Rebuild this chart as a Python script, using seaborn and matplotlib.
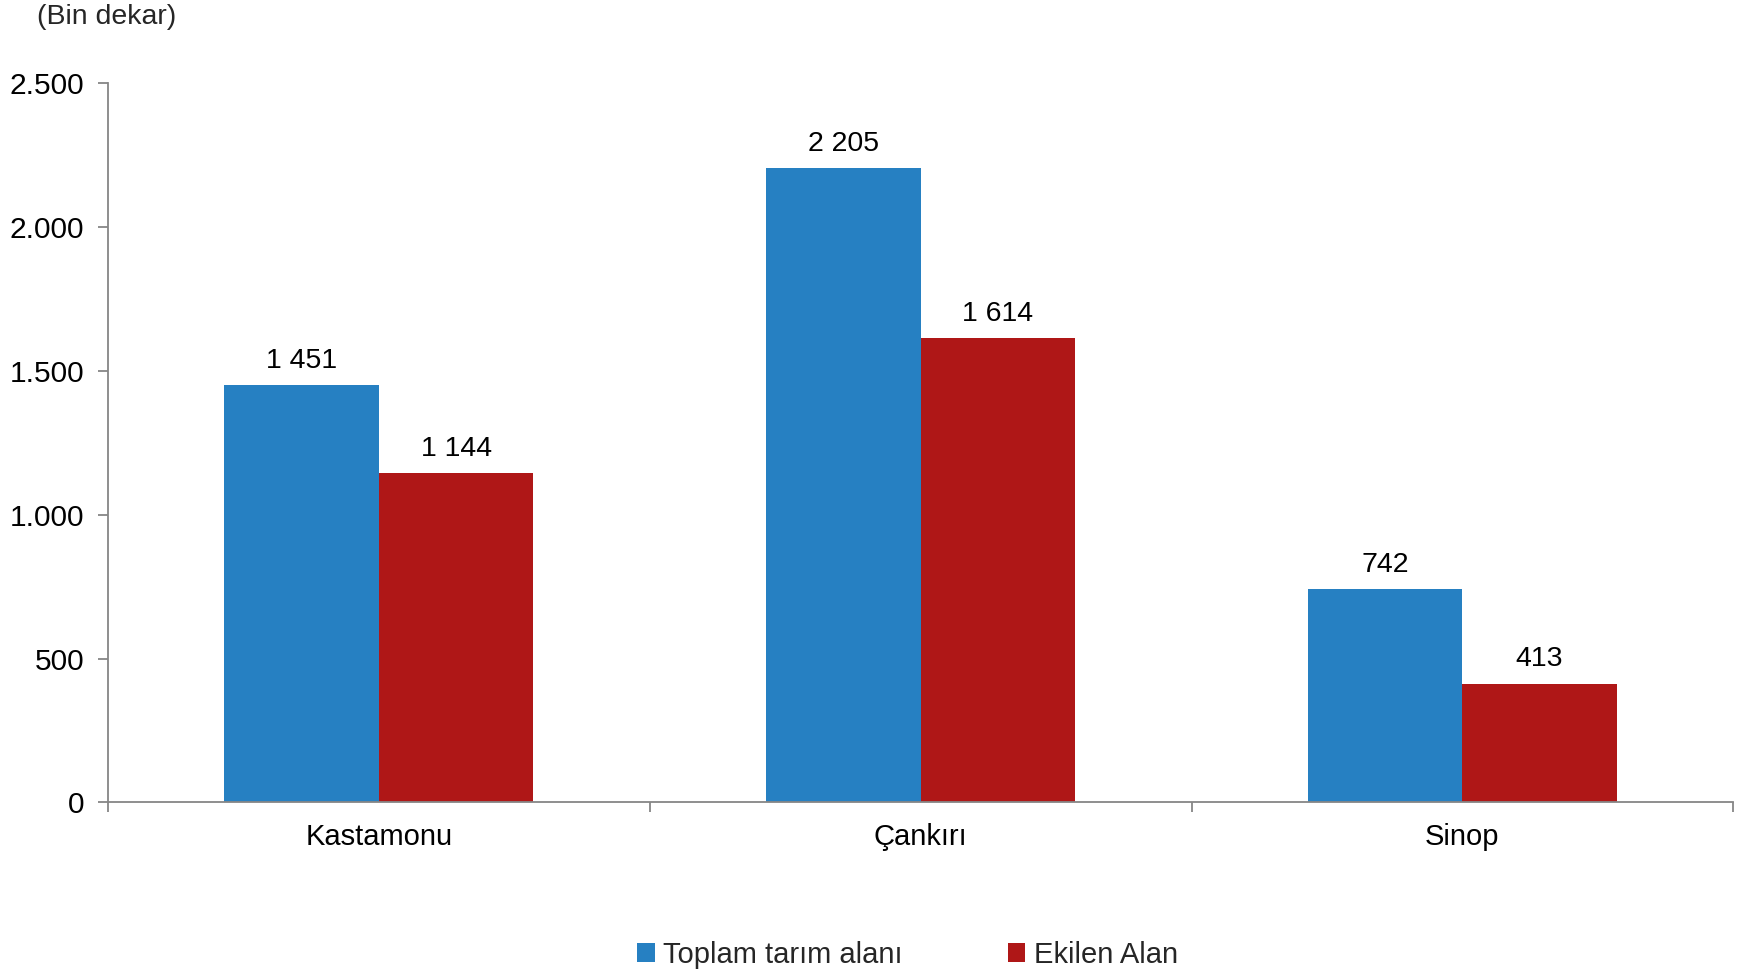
import matplotlib
matplotlib.use("Agg")
import matplotlib.pyplot as plt
import seaborn as sns
import pandas as pd
from matplotlib.ticker import FuncFormatter

categories = ["Kastamonu", "Çankırı", "Sinop"]
series_names = ["Toplam tarım alanı", "Ekilen Alan"]
toplam = [1451, 2205, 742]
ekilen = [1144, 1614, 413]
colors = ["#2680C2", "#AF1717"]

df = pd.DataFrame({
    "il": categories * 2,
    "seri": [series_names[0]] * 3 + [series_names[1]] * 3,
    "deger": toplam + ekilen,
})

sns.set_theme(style="white")
plt.rcParams["font.family"] = ["Liberation Sans", "DejaVu Sans"]

fig = plt.figure(figsize=(17.42, 9.75), dpi=100)
ax = fig.add_axes([0.062, 0.177, 0.933, 0.738])

sns.barplot(data=df, x="il", y="deger", hue="seri", hue_order=series_names,
            palette=colors, width=0.57, saturation=1, ax=ax, legend=True,
            linewidth=0)

for cont in ax.containers:
    labels = [f"{int(v):,}".replace(",", " ") for v in cont.datavalues]
    ax.bar_label(cont, labels=labels, padding=8, fontsize=20.5, color="black")

ax.set_ylim(0, 2500)
ax.set_xlim(-0.5, 2.5)
ax.set_yticks([0, 500, 1000, 1500, 2000, 2500])
ax.yaxis.set_major_formatter(FuncFormatter(lambda v, p: f"{int(v):,}".replace(",", ".")))
ax.set_xlabel("")
ax.set_ylabel("")

for s in ["top", "right"]:
    ax.spines[s].set_visible(False)
for s in ["left", "bottom"]:
    ax.spines[s].set_color("#868686")
    ax.spines[s].set_linewidth(1.3)

ax.tick_params(axis="y", which="major", direction="out", length=7, width=1.3,
               color="#868686", labelsize=21.5, labelcolor="black", left=True, pad=10)
ax.tick_params(axis="x", which="both", bottom=False, labelsize=21,
               labelcolor="black", pad=9)
ax.set_xticks([-0.5, 0.5, 1.5, 2.5], minor=True)
ax.tick_params(axis="x", which="minor", bottom=True, direction="out", length=7,
               width=1.3, color="#868686")

ax.legend_.remove()
handles, labs = ax.get_legend_handles_labels()
fig.legend(handles, labs, loc="center", bbox_to_anchor=(0.521, 0.021),
           ncol=2, frameon=False, fontsize=21, handlelength=0.6, handleheight=0.6,
           handletextpad=0.3, columnspacing=3.6)

fig.text(0.021, 0.983, "(Bin dekar)", fontsize=20.5, ha="left", va="center")

fig.savefig("out.png", dpi=100)
